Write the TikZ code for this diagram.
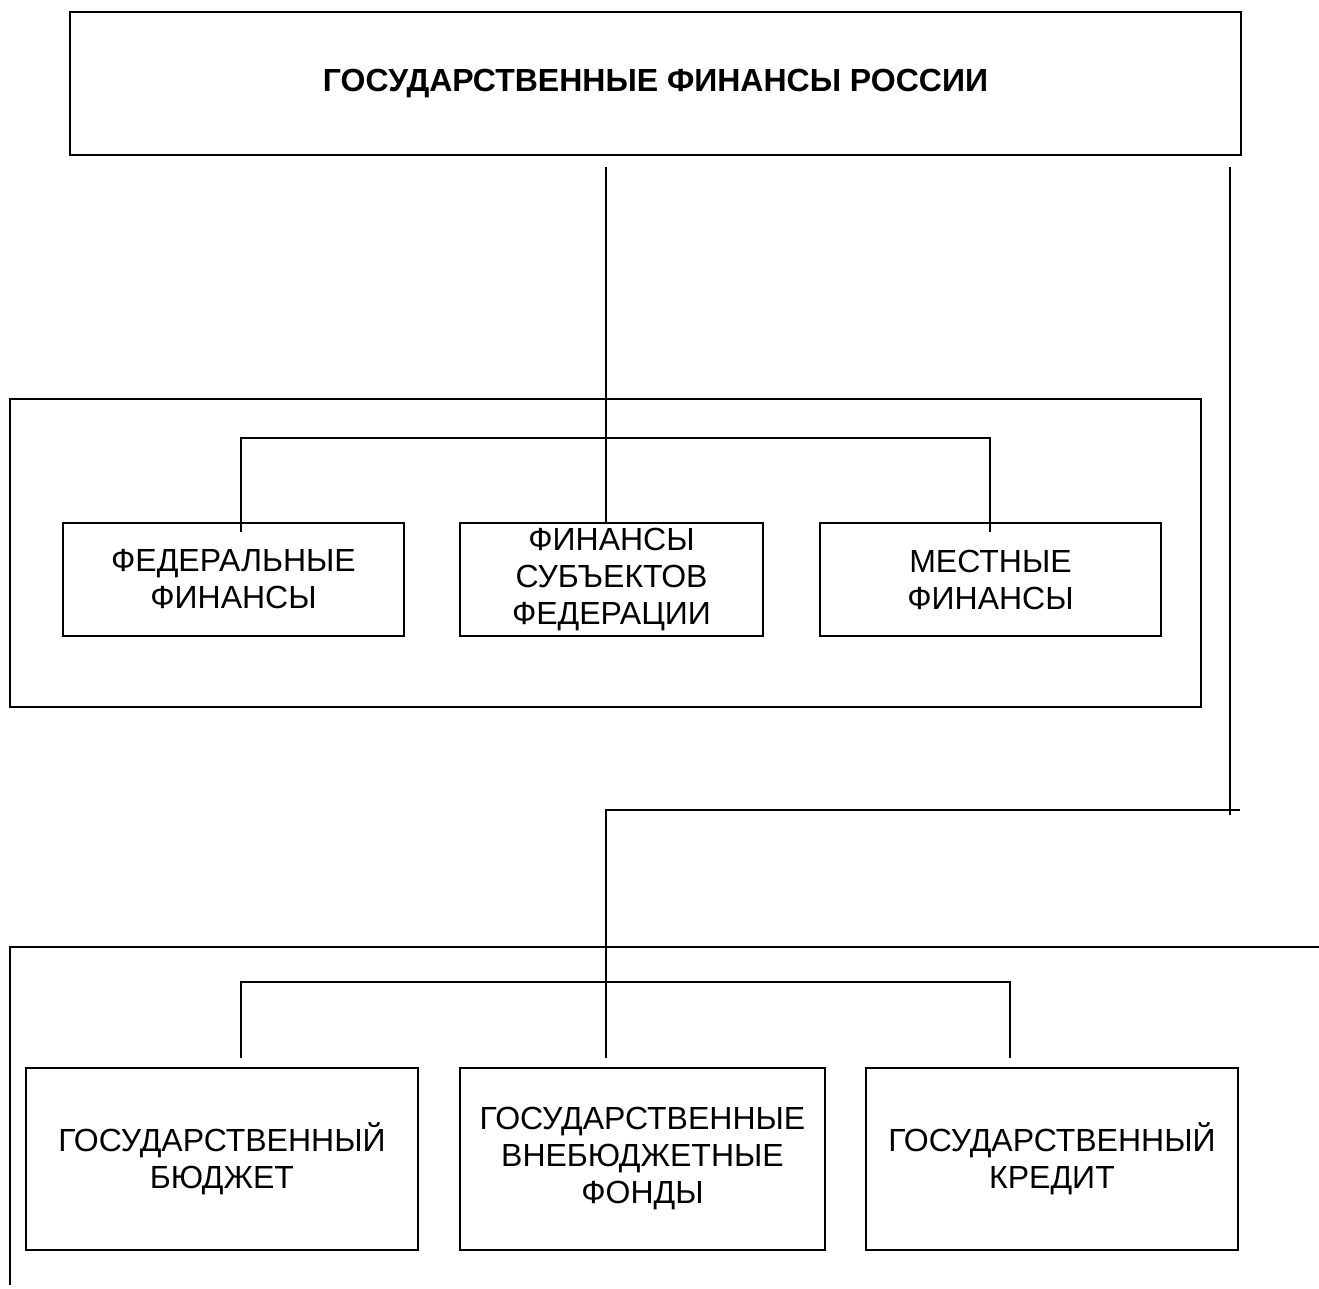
\documentclass[tikz,border=0pt]{standalone}
\usepackage{fontspec}
\setmainfont{Liberation Sans}
\usepackage{tikz}
\usetikzlibrary{positioning}
\tikzstyle{block} = [rectangle, draw, line width=2pt, inner sep=0pt, align=center,
                text centered, font=\fontsize{32}{37}\selectfont]
\tikzstyle{frame} = [rectangle, draw, line width=1.6pt, inner sep=0pt]
\tikzstyle{line} = [draw, line width=2pt]

\begin{document}
\begin{tikzpicture}[x=1pt,y=-1pt]
            \useasboundingbox (0,0) rectangle (1319,1289);
            \node[block, minimum width=1171pt, minimum height=143pt, font=\fontsize{32}{37}\selectfont\bfseries](gfr) at (655.5,83.5){ГОСУДАРСТВЕННЫЕ ФИНАНСЫ РОССИИ};
            % levels of the budget system
            \node[frame, minimum width=1191pt, minimum height=308pt](levels) at (605.5,553){};
            \node[block, minimum width=341pt, minimum height=113pt](fed) at (233.5,579.5){ФЕДЕРАЛЬНЫЕ\\ФИНАНСЫ};
            \node[block, minimum width=303pt, minimum height=113pt, right=54pt of fed](subj){ФИНАНСЫ\\СУБЪЕКТОВ\\ФЕДЕРАЦИИ};
            \node[block, minimum width=341pt, minimum height=113pt, right=55pt of subj](mest){МЕСТНЫЕ\\ФИНАНСЫ};
            % parts of the state finances
            \node[block, minimum width=392pt, minimum height=182pt](budget) at (222,1159){ГОСУДАРСТВЕННЫЙ\\БЮДЖЕТ};
            \node[block, minimum width=365pt, minimum height=182pt, right=40pt of budget](fonds){ГОСУДАРСТВЕННЫЕ\\ВНЕБЮДЖЕТНЫЕ\\ФОНДЫ};
            \node[block, minimum width=372pt, minimum height=182pt, right=39pt of fonds](credit){ГОСУДАРСТВЕННЫЙ\\КРЕДИТ};
            \coordinate(topa) at (606,167);
            \coordinate(topb) at (1230,167);
            \coordinate(turn) at (1230,810);
            \coordinate(down) at (606,810);
            \coordinate(busa) at (606,438);
            \coordinate(fedin) at (241,532);
            \coordinate(mestin) at (990,532);
            \coordinate(busb) at (606,982);
            \coordinate(budin) at (241,1058);
            \coordinate(fondsin) at (606,1058);
            \coordinate(credin) at (1010,1058);
            \coordinate(frr) at (1319,947);
            \coordinate(frl) at (10,1285);
            \path[line] (topa) -- (topa |- subj.north);
            \path[line] (fedin) |- (busa) -| (mestin);
            \path[line] (topb) -- ([yshift=-5pt]turn);
            \path[line] ([xshift=10pt]turn) -- (down) -- (fondsin);
            \path[line] (budin) |- (busb) -| (credin);
            \draw[line width=2pt] (frr) -| (frl);
        \end{tikzpicture}
\end{document}
